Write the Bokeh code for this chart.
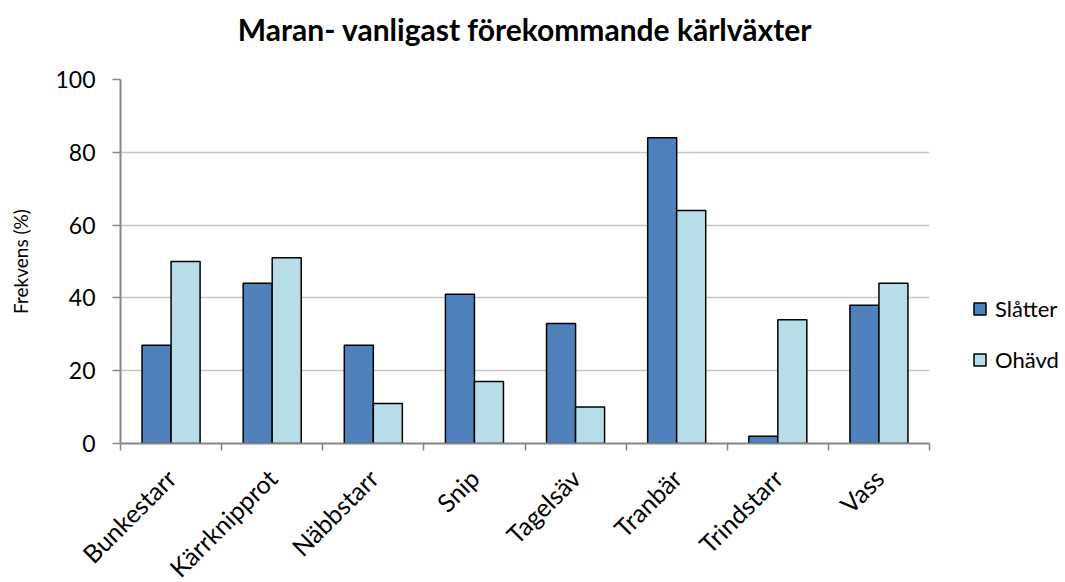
from bokeh.plotting import figure
from bokeh.models import FixedTicker, Legend, LegendItem, ColumnDataSource
from bokeh.transform import dodge
from bokeh.embed import file_html
from bokeh.resources import INLINE
import math

categories = ["Bunkestarr", "Kärrknipprot", "Näbbstarr", "Snip", "Tagelsäv", "Tranbär", "Trindstarr", "Vass"]
slatter = [27, 44, 27, 41, 33, 84, 2, 38]
ohavd = [50, 51, 11, 17, 10, 64, 34, 44]
y_ticks = [0, 20, 40, 60, 80, 100]

FONT = "Lato"
n = len(categories)
xc = [i + 0.5 for i in range(n)]
src = ColumnDataSource(dict(x=xc, s=slatter, o=ohavd))

p = figure(frame_width=809, frame_height=364, output_backend="svg", toolbar_location=None,
           x_range=(0, n), y_range=(0, 100),
           min_border_left=120, min_border_right=128, min_border_top=79, min_border_bottom=135)
p.title.text = "Maran- vanligast förekommande kärlväxter\n"
p.title.align = "center"
p.title.text_font = FONT
p.title.text_font_size = "30px"
p.title.text_font_style = "bold"
p.title.text_color = "black"
p.title.text_line_height = 0.8
p.title.standoff = 8

bw = 0.287
r1 = p.vbar(x=dodge("x", -bw / 2), top="s", width=bw, source=src,
            fill_color="#4f81bd", line_color="black", line_width=1.5)
r2 = p.vbar(x=dodge("x", bw / 2), top="o", width=bw, source=src,
            fill_color="#b7dee8", line_color="black", line_width=1.5)

p.outline_line_color = None
p.xgrid.grid_line_color = None
p.ygrid.grid_line_color = "#c6c6c6"
p.ygrid.grid_line_width = 1.5

# x axis
xa = p.xaxis[0]
xa.ticker = FixedTicker(ticks=xc, minor_ticks=list(range(n + 1)))
xa.major_label_overrides = {x: c for x, c in zip(xc, categories)}
xa.major_label_orientation = math.pi / 4
xa.major_tick_line_color = None
xa.minor_tick_line_color = "#868686"
xa.minor_tick_line_width = 1.5
xa.minor_tick_out = 7
xa.minor_tick_in = 0
xa.axis_line_color = "#868686"
xa.axis_line_width = 2
xa.major_label_text_font = FONT
xa.major_label_text_font_size = "25px"
xa.major_label_text_color = "black"
xa.major_label_standoff = 23

# y axis
ya = p.yaxis[0]
ya.ticker = FixedTicker(ticks=y_ticks)
ya.minor_tick_line_color = None
ya.major_tick_line_color = "#868686"
ya.major_tick_line_width = 1.5
ya.major_tick_out = 8
ya.major_tick_in = 0
ya.axis_line_color = "#868686"
ya.axis_line_width = 2
ya.major_label_text_font = FONT
ya.major_label_text_font_size = "23px"
ya.major_label_text_color = "black"
ya.major_label_standoff = 17
ya.axis_label = "Frekvens (%)"
ya.axis_label_text_font = FONT
ya.axis_label_text_font_size = "19px"
ya.axis_label_text_font_style = "normal"
ya.axis_label_text_color = "black"
ya.axis_label_standoff = 20

legend = Legend(items=[LegendItem(label="Slåtter", renderers=[r1]),
                       LegendItem(label="Ohävd", renderers=[r2])],
                location=(43, 70), orientation="vertical")
legend.border_line_color = None
legend.background_fill_alpha = 0
legend.label_text_font = FONT
legend.label_text_font_size = "22px"
legend.label_text_color = "black"
legend.glyph_width = 15
legend.glyph_height = 15
legend.label_height = 26
legend.spacing = 24
legend.padding = 0
legend.margin = 0
legend.label_standoff = 8
p.add_layout(legend, "right")

open("out.html", "w").write(file_html(p, INLINE))
